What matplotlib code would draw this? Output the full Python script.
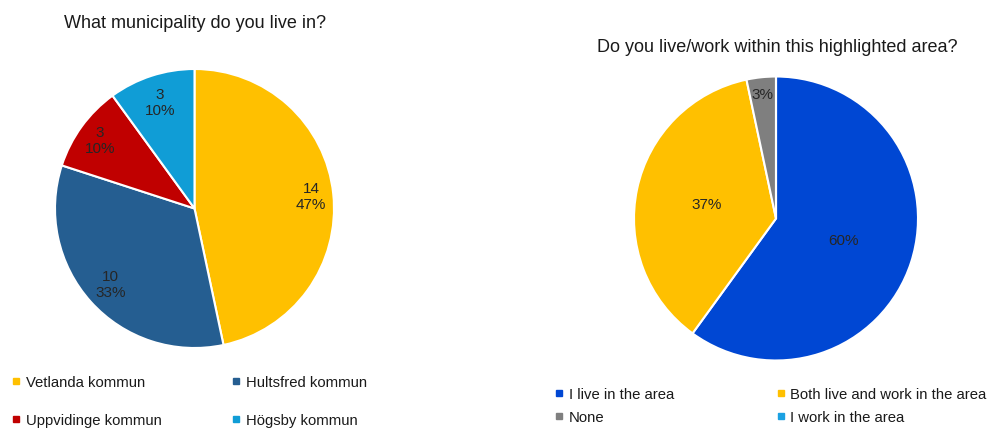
import numpy as np
import matplotlib.pyplot as plt
from matplotlib.lines import Line2D

plt.rcParams['font.family'] = ['Liberation Sans', 'DejaVu Sans']

# Kommun
kommuner = ['Vetlanda kommun', 'Hultsfred kommun', 'Uppvidinge kommun', 'Högsby kommun']
antal_kommun = [14, 10, 3, 3]
farger_kommun = ['#FFC000', '#255E91', '#C00000', '#109DD6']

# Område
omraden = ['I live in the area', 'Both live and work in the area', 'None', 'I work in the area']
antal_omrade = [18, 11, 1, 0]
farger_omrade = ['#0047D3', '#FFC000', '#7F7F7F', '#1BA1E2']

fig = plt.figure(figsize=(9.99, 4.31), dpi=100)
W, H = 999, 431


def pie_axes(cx, cy, r):
    # axlar i pixlar -> figurkoordinater
    return fig.add_axes([(cx - r) / W, (H - cy - r) / H, 2 * r / W, 2 * r / H])


def labels(ax, wedges, texts, dist):
    for w, t, d in zip(wedges, texts, dist):
        if t is None:
            continue
        ang = np.deg2rad((w.theta1 + w.theta2) / 2)
        ax.text(d * np.cos(ang), d * np.sin(ang), t, ha='center', va='center',
                fontsize=11, color='#262626', linespacing=1.2)


# vänster diagram
ax1 = pie_axes(194.5, 209.5, 139.5)
w1, _ = ax1.pie(antal_kommun, colors=farger_kommun, startangle=90, counterclock=False,
                wedgeprops=dict(edgecolor='white', linewidth=1.5))
ax1.set_xlim(-1, 1)
ax1.set_ylim(-1, 1)
tot = sum(antal_kommun)
txt1 = ['%d\n%d%%' % (v, round(100 * v / tot)) for v in antal_kommun]
labels(ax1, w1, txt1, [0.84, 0.81, 0.84, 0.8])
fig.text(195 / W, 1 - 23 / H, 'What municipality do you live in?', ha='center', va='center',
         fontsize=13, color='#1a1a1a')

# höger diagram
ax2 = pie_axes(776, 219.5, 142)
w2, _ = ax2.pie(antal_omrade, colors=farger_omrade, startangle=90, counterclock=False,
                wedgeprops=dict(edgecolor='white', linewidth=1.5))
ax2.set_xlim(-1, 1)
ax2.set_ylim(-1, 1)
tot = sum(antal_omrade)
txt2 = ['%d%%' % round(100 * v / tot) if v > 0 else None for v in antal_omrade]
labels(ax2, w2, txt2, [0.5, 0.5, 0.88, 0.5])
fig.text(777 / W, 1 - 47 / H, 'Do you live/work within this highlighted area?', ha='center',
         va='center', fontsize=13, color='#1a1a1a')


def handles(cols):
    return [Line2D([], [], marker='s', linestyle='none', markersize=4.5, color=c) for c in cols]


def radvis(lst):
    # legend fylls kolumnvis, så byt ordning för två kolumner radvis
    return [lst[0], lst[2], lst[1], lst[3]]


fig.legend(handles(radvis(farger_kommun)), radvis(kommuner), ncol=2, loc='upper left',
           bbox_to_anchor=(12 / W, 1 - 376 / H), frameon=False, fontsize=10.7,
           handlelength=0.6, handletextpad=0.35, columnspacing=4.7, labelspacing=1.6,
           borderpad=0, borderaxespad=0, labelcolor='#1a1a1a')
fig.legend(handles(radvis(farger_omrade)), radvis(omraden), ncol=2, loc='upper left',
           bbox_to_anchor=(555 / W, 1 - 388 / H), frameon=False, fontsize=10.7,
           handlelength=0.6, handletextpad=0.35, columnspacing=6.85, labelspacing=0.62,
           borderpad=0, borderaxespad=0, labelcolor='#1a1a1a')

fig.savefig('out.png', dpi=100, facecolor='white')
